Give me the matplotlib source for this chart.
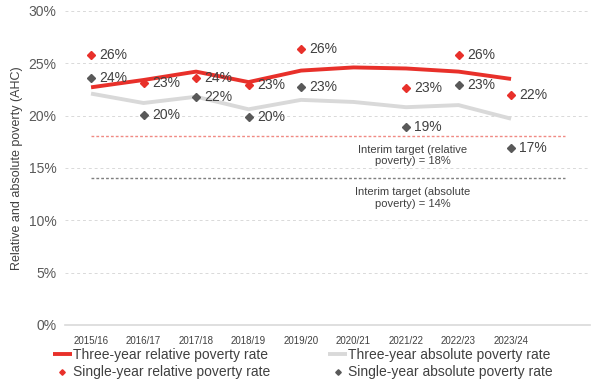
import numpy as np
import matplotlib.pyplot as plt

plt.rcParams['font.family'] = ['Liberation Sans', 'DejaVu Sans']

years = ['2015/16', '2016/17', '2017/18', '2018/19', '2019/20',
         '2020/21', '2021/22', '2022/23', '2023/24']
three_rel = [22.7, 23.4, 24.2, 23.2, 24.3, 24.6, 24.5, 24.2, 23.5]
three_abs = [22.1, 21.2, 21.8, 20.6, 21.5, 21.3, 20.8, 21.0, 19.7]
# 2020/21 single-year figures not published
single_rel = [25.8, 23.1, 23.6, 22.9, 26.4, np.nan, 22.6, 25.8, 22.0]
single_abs = [23.6, 20.1, 21.8, 19.9, 22.7, np.nan, 18.9, 22.9, 16.9]
rel_labels = ['26%', '23%', '24%', '23%', '26%', '', '23%', '26%', '22%']
abs_labels = ['24%', '20%', '22%', '20%', '23%', '', '19%', '23%', '17%']
target_rel = 18
target_abs = 14

RED = '#E8302A'
LGREY = '#D9D9D9'
DGREY = '#595959'

x = np.arange(len(years))

fig = plt.figure(figsize=(6, 3.9), dpi=100)
ax = fig.add_axes([0.108, 0.167, 0.875, 0.805])

l1, = ax.plot(x, three_rel, color=RED, lw=2.8, solid_capstyle='butt', zorder=3)
l2, = ax.plot(x, three_abs, color=LGREY, lw=2.8, solid_capstyle='butt', zorder=2)
m1, = ax.plot(x, single_rel, ls='none', marker='D', ms=4, color=RED, zorder=4)
m2, = ax.plot(x, single_abs, ls='none', marker='D', ms=4, color=DGREY, zorder=4)

for xi, v, lab in zip(x, single_rel, rel_labels):
    if lab:
        ax.annotate(lab, (xi, v), xytext=(6, 0), textcoords='offset points',
                    va='center', ha='left', fontsize=10, color='#404040')
for xi, v, lab in zip(x, single_abs, abs_labels):
    if lab:
        ax.annotate(lab, (xi, v), xytext=(6, 0), textcoords='offset points',
                    va='center', ha='left', fontsize=10, color='#404040')

ax.plot([0, 9.02], [target_rel, target_rel], color='#F08A84', lw=1.0,
        ls=(0, (2, 1.5)), zorder=1)
ax.plot([0, 9.02], [target_abs, target_abs], color='#7F7F7F', lw=1.0,
        ls=(0, (2, 1.5)), zorder=1)
ax.text(6.13, 16.2, 'Interim target (relative\npoverty) = 18%', ha='center',
        va='center', fontsize=8, color='#404040', linespacing=1.2)
ax.text(6.13, 12.1, 'Interim target (absolute\npoverty) = 14%', ha='center',
        va='center', fontsize=8, color='#404040', linespacing=1.2)

ax.set_xlim(-0.5, 9.5)
ax.set_ylim(0, 30)
ax.set_xticks(x)
ax.set_xticklabels(years, fontsize=7, color='#404040')
ax.set_yticks(range(0, 31, 5))
ax.set_yticklabels([f'{t}%' for t in range(0, 31, 5)], fontsize=10, color='#595959')
ax.tick_params(length=0, pad=6)
ax.tick_params(axis='x', pad=8)
ax.grid(axis='y', color='#D9D9D9', ls=(0, (3, 3)), lw=0.7)
ax.set_axisbelow(True)
for s in ['top', 'right', 'left']:
    ax.spines[s].set_visible(False)
ax.spines['bottom'].set_color('#D9D9D9')
ax.spines['bottom'].set_linewidth(1.2)
ax.set_ylabel('Relative and absolute poverty (AHC)', fontsize=9, color='#404040', labelpad=4)

fig.legend([l1, m1, l2, m2],
           ['Three-year relative poverty rate', 'Single-year relative poverty rate',
            'Three-year absolute poverty rate', 'Single-year absolute poverty rate'],
           ncol=2, loc='lower center', bbox_to_anchor=(0.505, -0.005), frameon=False,
           fontsize=10, handlelength=1.3, handletextpad=0.1, columnspacing=4.2,
           labelspacing=0.25, labelcolor='#404040', markerscale=0.7)

fig.savefig('out.png', dpi=100)
